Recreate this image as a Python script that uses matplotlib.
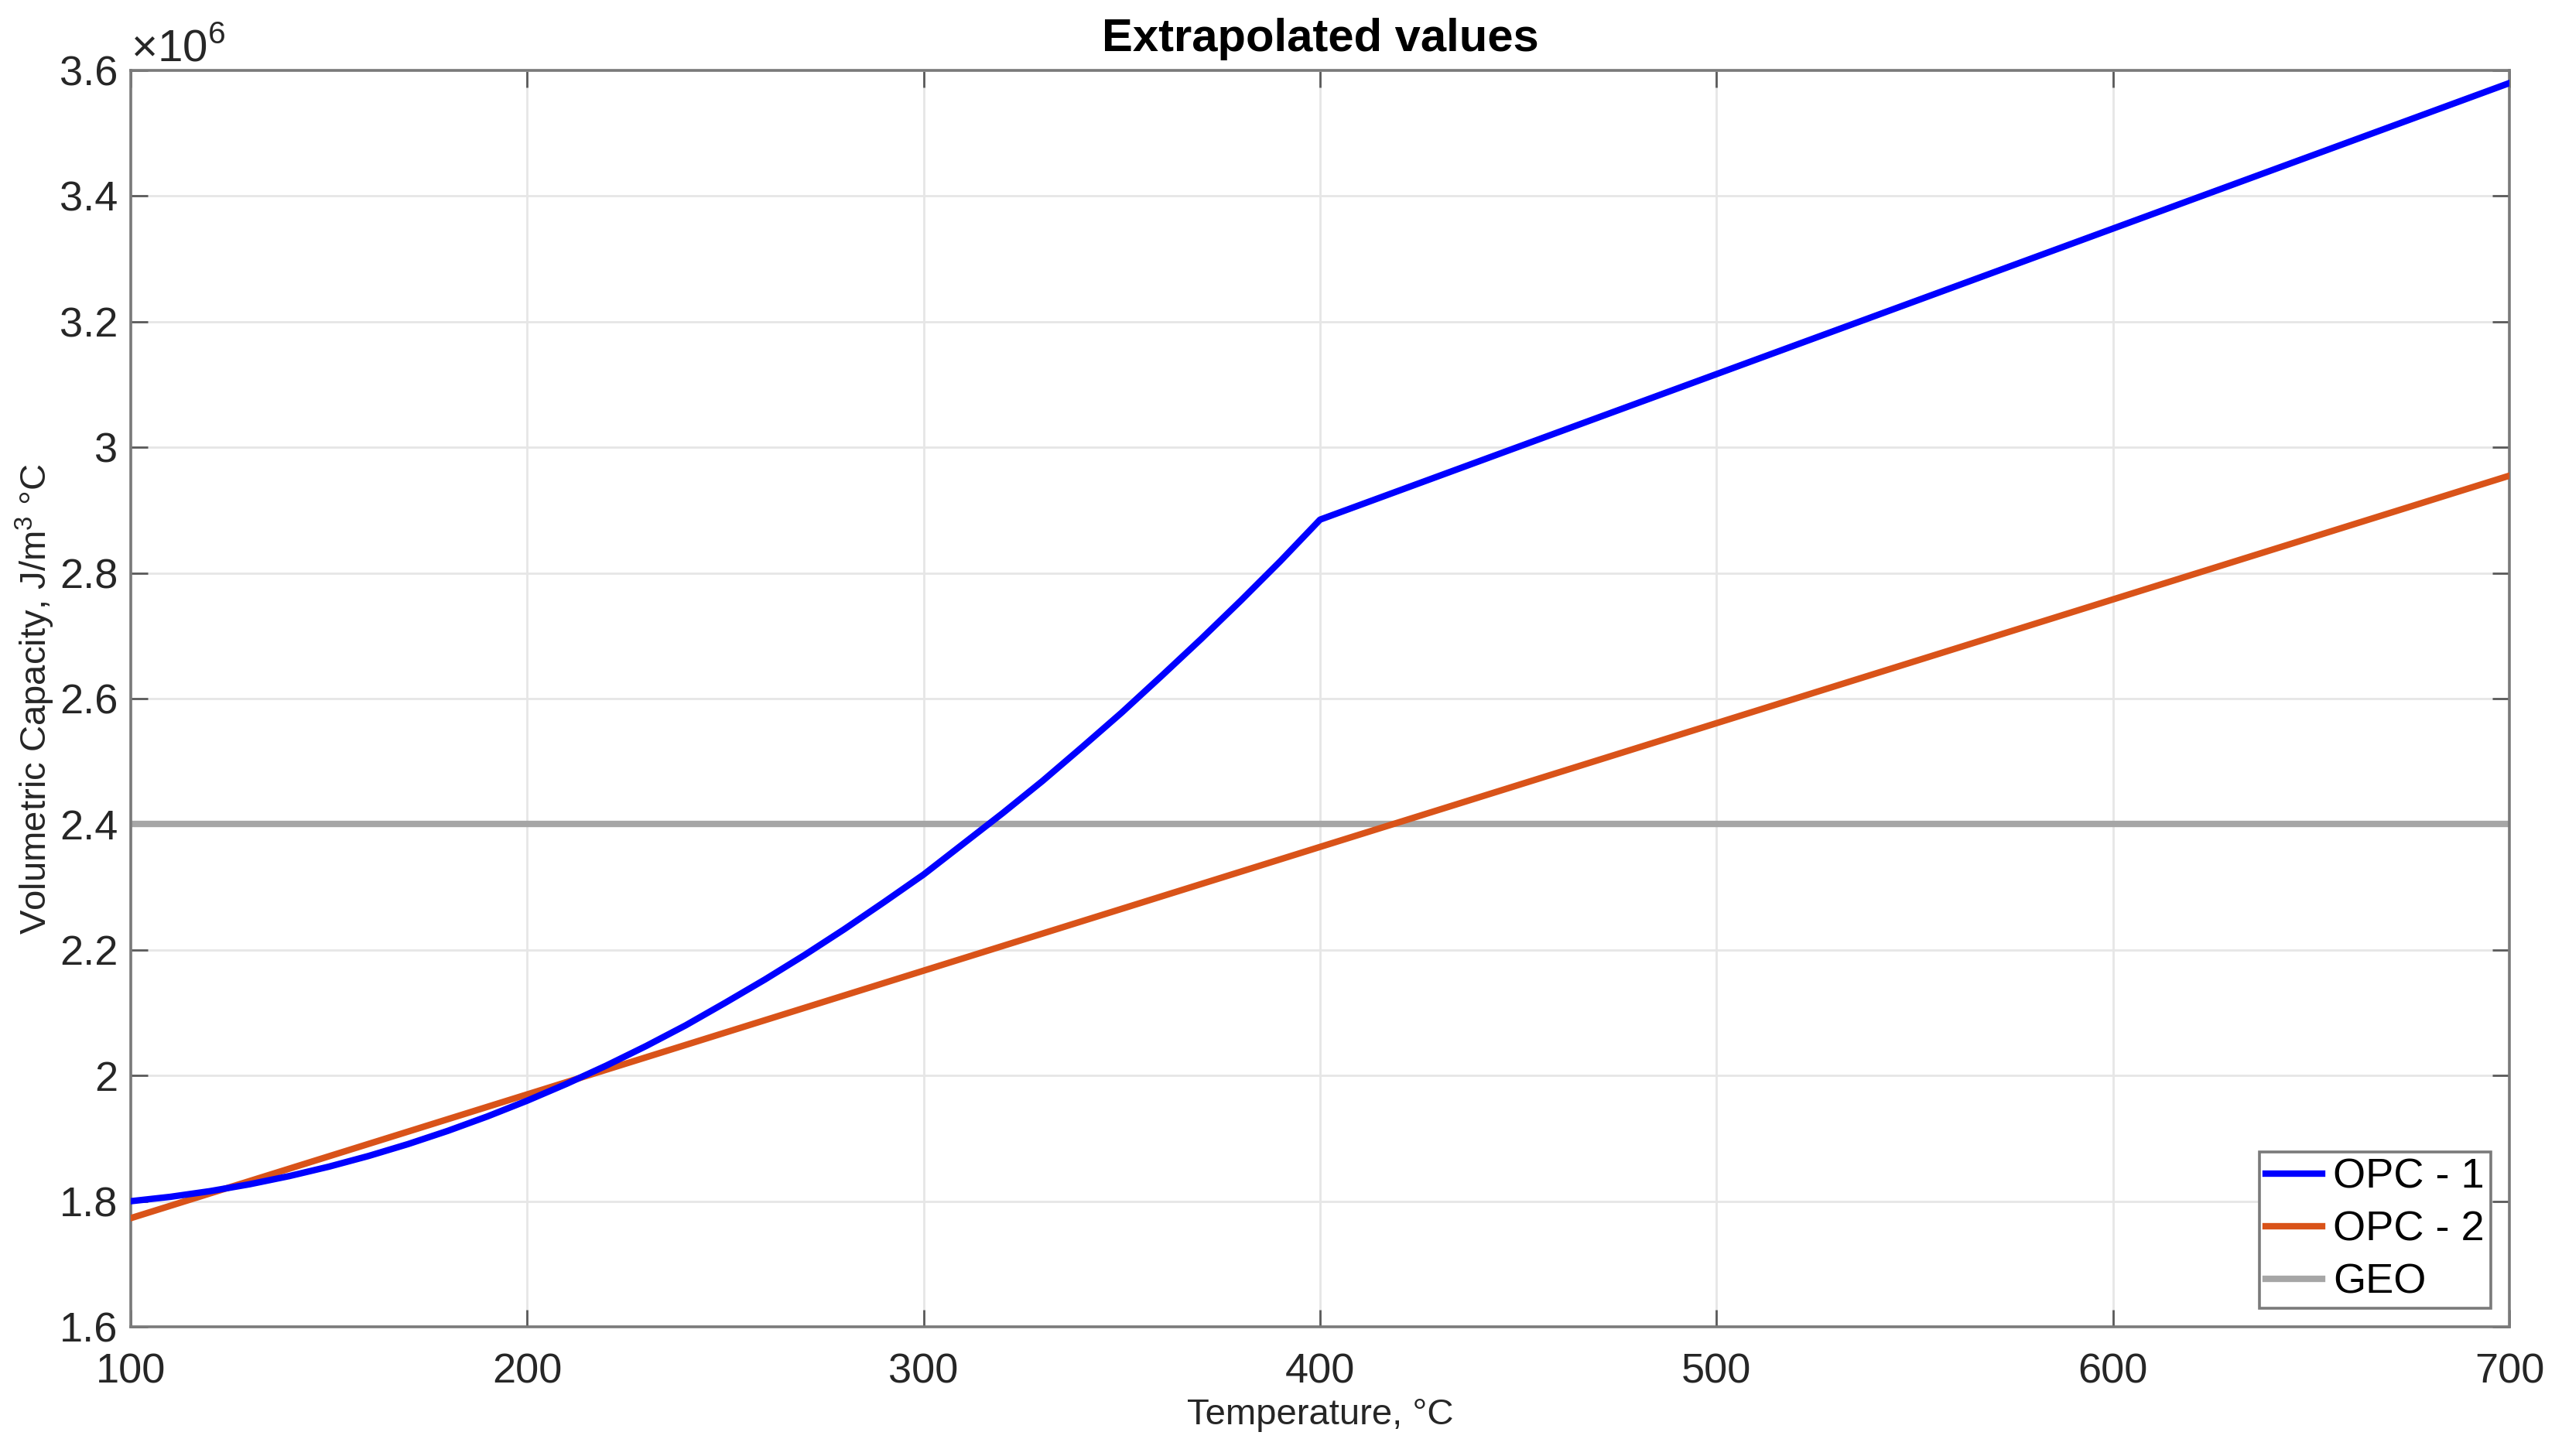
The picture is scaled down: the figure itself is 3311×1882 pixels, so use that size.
import numpy as np
import matplotlib
matplotlib.use("Agg")
import matplotlib.pyplot as plt
from matplotlib.ticker import FuncFormatter

# values (J/m3 C)
temp_opc1 = [100, 110, 120, 130, 140, 150, 160, 170, 180, 190, 200,
             210, 220, 230, 240, 250, 260, 270, 280, 290, 300,
             310, 320, 330, 340, 350, 360, 370, 380, 390, 400, 700]
cap_opc1 = [1.800e6, 1.807e6, 1.816e6, 1.827e6, 1.840e6, 1.855e6, 1.872e6,
            1.891e6, 1.912e6, 1.935e6, 1.960e6, 1.987e6, 2.016e6, 2.047e6,
            2.080e6, 2.116e6, 2.153e6, 2.192e6, 2.233e6, 2.276e6, 2.320e6,
            2.369e6, 2.418e6, 2.469e6, 2.523e6, 2.578e6, 2.636e6, 2.695e6,
            2.756e6, 2.819e6, 2.885e6, 3.580e6]

temp_opc2 = [100, 700]
cap_opc2 = [1.773e6, 2.955e6]

temp_geo = [100, 700]
cap_geo = [2.4e6, 2.4e6]

labels = ['OPC - 1', 'OPC - 2', 'GEO']
colors = ['#0000ff', '#d95319', '#a6a6a6']

plt.rcParams['font.family'] = ['Liberation Sans', 'DejaVu Sans']
plt.rcParams['mathtext.fontset'] = 'custom'
plt.rcParams['mathtext.rm'] = 'Liberation Sans'

fig = plt.figure(figsize=(3311 / 200, 1882 / 200), dpi=200)
ax = fig.add_axes([0.051, 0.0887, 0.9285, 0.8629])

ax.plot(temp_opc1, cap_opc1, color=colors[0], lw=3.0, label=labels[0], zorder=4)
ax.plot(temp_opc2, cap_opc2, color=colors[1], lw=3.0, label=labels[1], zorder=3)
ax.plot(temp_geo, cap_geo, color=colors[2], lw=3.0, label=labels[2], zorder=2)

ax.set_xlim(100, 700)
ax.set_ylim(1.6e6, 3.6e6)
ax.set_xticks(np.arange(100, 701, 100))
ax.set_yticks(np.arange(1.6e6, 3.61e6, 0.2e6))

# MATLAB style labels: 3 and 2 instead of 3.0 and 2.0, exponent on top
ax.yaxis.set_major_formatter(FuncFormatter(lambda v, p: '%g' % round(v / 1e6, 2)))
ax.text(0.0, 1.0, r'$\times10^{6}$', transform=ax.transAxes, fontsize=21,
        color='#262626', ha='left', va='bottom')

ax.grid(True, color='#e6e6e6', lw=1.0)
ax.set_axisbelow(True)
ax.tick_params(direction='in', length=8, width=1.0, color='#5a5a5a',
               labelsize=19.5, labelcolor='#262626', top=True, right=True)
ax.tick_params(axis='x', pad=12)
ax.tick_params(axis='y', pad=6)
for s in ax.spines.values():
    s.set_color('#7a7a7a')
    s.set_linewidth(1.3)

ax.set_title('Extrapolated values', fontsize=21.5, fontweight='bold', pad=9)
ax.set_xlabel('Temperature, °C', fontsize=17, color='#262626', labelpad=3)
ax.set_ylabel('Volumetric Capacity, J/m$^3$ °C', fontsize=17, color='#262626', labelpad=1.5)

leg = ax.legend(loc='lower right', fontsize=19.5, frameon=True, fancybox=False,
                edgecolor='#7a7a7a', framealpha=1, handlelength=1.35,
                handletextpad=0.25, borderpad=0.15, labelspacing=0.33,
                borderaxespad=0.45)
leg.get_frame().set_linewidth(1.3)

fig.savefig('out.png', dpi=200)
